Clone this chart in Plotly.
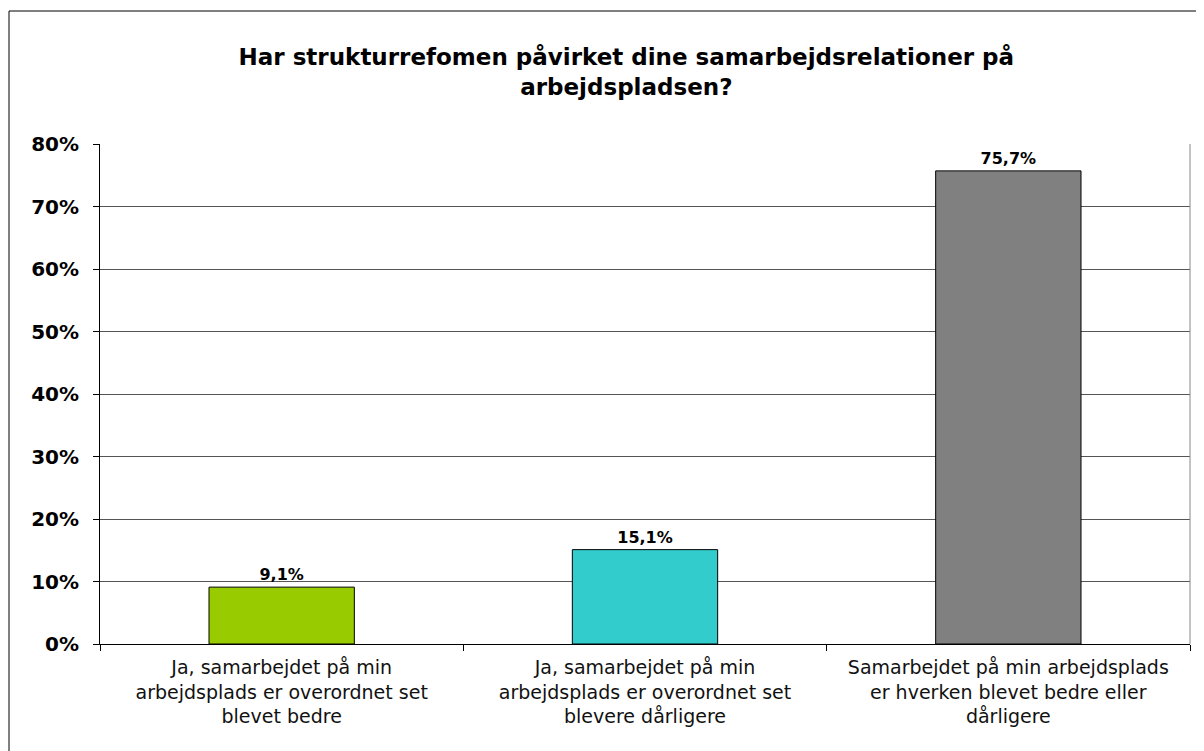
import plotly.graph_objects as go

categories = [
    "Ja, samarbejdet på min<br>arbejdsplads er overordnet set<br>blevet bedre",
    "Ja, samarbejdet på min<br>arbejdsplads er overordnet set<br>blevere dårligere",
    "Samarbejdet på min arbejdsplads<br>er hverken blevet bedre eller<br>dårligere",
]
values = [0.091, 0.151, 0.757]
bar_colors = ["#99CC00", "#33CCCC", "#808080"]

labels = [("%.1f%%" % (v * 100)).replace(".", ",") for v in values]

FONT = "Verdana, DejaVu Sans, sans-serif"

# page body has an 8px margin, so the figure is shifted by 8px
W, H = 1196, 743
L, R, T, B = 92, 14, 136, 107
pw, ph = W - L - R, H - T - B

fig = go.Figure()
fig.add_trace(go.Bar(
    x=categories,
    y=values,
    width=0.4,
    marker=dict(color=bar_colors, line=dict(color="black", width=1)),
    text=labels,
    textposition="outside",
    textfont=dict(family=FONT, size=16, color="black", weight="bold"),
    cliponaxis=False,
))

fig.update_layout(
    width=W,
    height=H,
    paper_bgcolor="white",
    plot_bgcolor="white",
    margin=dict(l=L, r=R, t=T, b=B),
    showlegend=False,
    font=dict(family=FONT, color="black"),
    title=dict(
        text="<b>Har strukturrefomen påvirket dine samarbejdsrelationer på<br>arbejdspladsen?</b>",
        x=0.517, xanchor="center",
        y=1 - 57 / H, yanchor="top",
        font=dict(family=FONT, size=23, color="black"),
    ),
    bargap=0.6,
)

fig.update_yaxes(
    range=[0, 0.8],
    dtick=0.1,
    tickformat=".0%",
    showgrid=True,
    gridcolor="#555555",
    gridwidth=1,
    zeroline=False,
    showline=True,
    linecolor="black",
    ticks="outside",
    ticklen=6,
    tickcolor="black",
    ticklabelstandoff=10,
    tickfont=dict(family=FONT, size=20, color="black", weight="bold"),
)
fig.update_xaxes(
    showline=True,
    linecolor="black",
    ticks="outside",
    tickson="boundaries",
    ticklen=6,
    tickcolor="black",
    ticklabelstandoff=6,
    tickfont=dict(family=FONT, size=19, color="#111111"),
)

# right edge of plot area
fig.add_shape(type="line", xref="paper", yref="paper", x0=1, x1=1, y0=0, y1=1,
              line=dict(color="#888888", width=1))
# outer chart border
fig.add_shape(type="rect", xref="paper", yref="paper",
              x0=(1 - L) / pw, x1=(W + 20 - L) / pw,
              y0=(T + ph - (H + 20)) / ph, y1=(T + ph - 3) / ph,
              line=dict(color="black", width=1), layer="below")

fig.write_html("out.html")
